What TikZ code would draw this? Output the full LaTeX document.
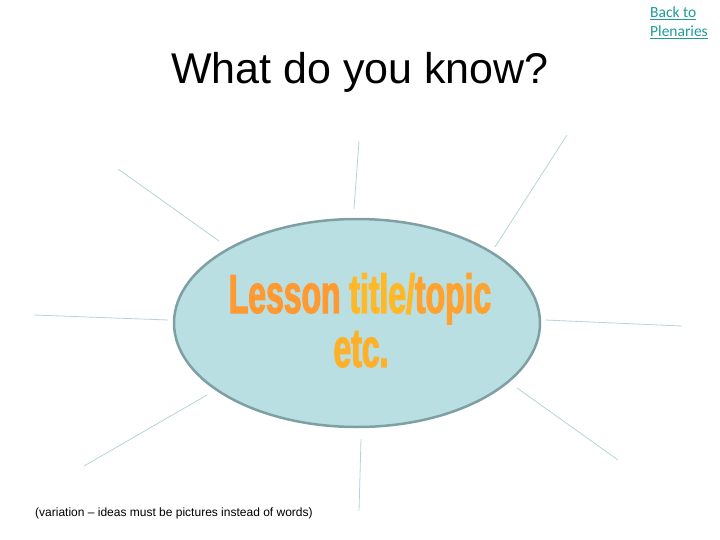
\documentclass[tikz,border=0pt]{standalone}
\usepackage{fontspec}
\setmainfont{Liberation Sans}
\newfontfamily\linkfont{Carlito}
\newfontfamily\bannerfont[FakeStretch=0.58,FakeBold=2]{Liberation Sans Bold}
\usepackage{tikz}
\usetikzlibrary{shapes.geometric}

\definecolor{spokeblue}{HTML}{B7D3D8}
\definecolor{topicfill}{HTML}{B9DFE3}
\definecolor{topicedge}{HTML}{7E9FA3}
\definecolor{linkteal}{HTML}{1E9A9A}
\definecolor{bannerorange}{HTML}{FF9A33}
\definecolor{banneryellow}{HTML}{FFD21F}

\tikzset{
  spoke/.style={draw=spokeblue, line width=0.8pt},
  topicbox/.style={ellipse, draw=topicedge, line width=2.5pt, fill=topicfill, minimum width=366pt, minimum height=208pt, inner sep=0pt},
  banner/.style={font=\bannerfont\fontsize{55}{54}\selectfont, anchor=base, inner sep=0pt}
}

\begin{document}
\begin{tikzpicture}[x=1pt, y=-1pt]
\useasboundingbox (0,0) rectangle (720,540);

\node[anchor=base, font=\fontsize{43}{50}\selectfont] (title) at (360,84) {What do you know?};
\node[anchor=north west, align=left, inner sep=0pt, text=linkteal, font=\linkfont\fontsize{15.5}{18.5}\selectfont] (back) at (650,7) {\underline{Back to}\\\underline{Plenaries}};

% spokes round the topic
\coordinate (tl-a) at (118,169); \coordinate (tl-b) at (219,241);
\coordinate (t-a) at (359,141);  \coordinate (t-b) at (354,209);
\coordinate (tr-a) at (567,135); \coordinate (tr-b) at (495,247);
\coordinate (l-a) at (34,315);   \coordinate (l-b) at (168,320);
\coordinate (r-a) at (545,320);  \coordinate (r-b) at (682,326);
\coordinate (bl-a) at (207,395); \coordinate (bl-b) at (84,466);
\coordinate (b-a) at (361,439);  \coordinate (b-b) at (359,511);
\coordinate (br-a) at (517,388); \coordinate (br-b) at (618,460);
\foreach \s in {tl,t,tr,l,r,bl,b,br}
  \draw[spoke] (\s-a) -- (\s-b);

\node[topicbox] (topic) at (357,323) {};
\node[banner] (label) at (360,313) {\textcolor{bannerorange}{Lesson} \textcolor{banneryellow!55!bannerorange}{title/}\textcolor{bannerorange!85!banneryellow}{topic}};
\node[banner] (etc) at (361,367) {\textcolor{banneryellow!40!bannerorange}{etc.}};

\node[anchor=base west, inner sep=0pt, font=\fontsize{12}{14}\selectfont] (note) at (35,516) {(variation -- ideas must be pictures instead of words)};
\end{tikzpicture}
\end{document}
